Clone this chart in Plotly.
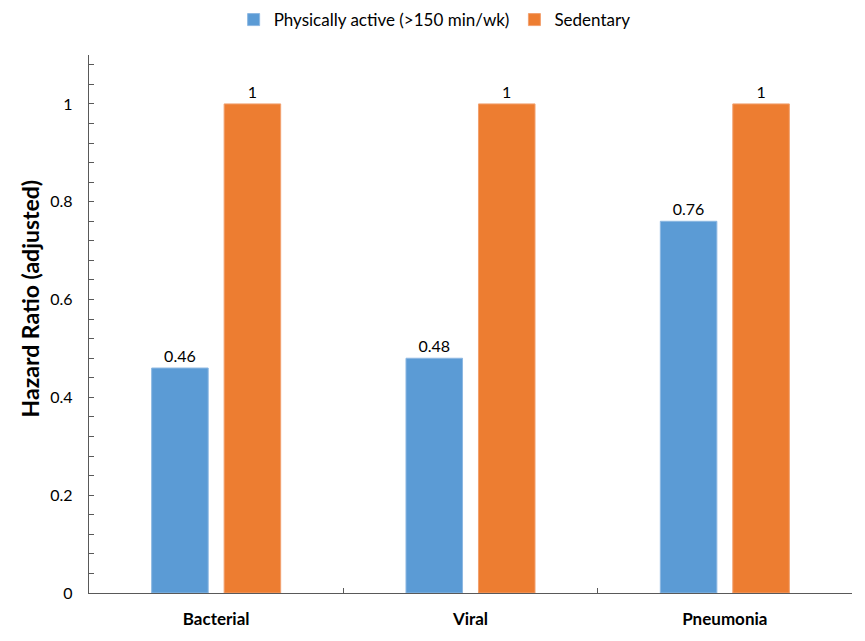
import plotly.graph_objects as go

categories = ["Bacterial", "Viral", "Pneumonia"]
active = [0.46, 0.48, 0.76]
sedentary = [1, 1, 1]
series_names = ["Physically active (>150 min/wk)", "Sedentary"]
y_title = "Hazard Ratio (adjusted)"

FONT = "Lato"
BLUE = "#5B9BD5"
ORANGE = "#ED7D31"

fig = go.Figure()
fig.add_trace(go.Bar(
    x=categories, y=active, name=series_names[0],
    marker=dict(color=BLUE, line=dict(color="#8DB8E2", width=1)),
    text=[f"{v:g}" for v in active], textposition="outside",
    textfont=dict(size=16, color="#000000"), cliponaxis=False,
))
fig.add_trace(go.Bar(
    x=categories, y=sedentary, name=series_names[1],
    marker=dict(color=ORANGE, line=dict(color="#F2A06E", width=1)),
    text=[f"{v:g}" for v in sedentary], textposition="outside",
    textfont=dict(size=16, color="#000000"), cliponaxis=False,
))

fig.update_layout(
    width=865, height=641,
    paper_bgcolor="white", plot_bgcolor="white",
    font=dict(family=FONT, size=16, color="#000000"),
    margin=dict(l=89, r=13, t=55, b=48, autoexpand=False),
    barmode="group", bargap=0.43, bargroupgap=0.22,
    showlegend=True,
    legend=dict(orientation="h", x=0.453, xanchor="center", y=1.065, yanchor="middle",
                font=dict(size=17), traceorder="normal"),
)

# y-axis title placed as a rotated annotation (sits a bit above the axis centre)
fig.add_annotation(
    text=y_title, textangle=-90, showarrow=False,
    xref="paper", yref="paper", x=-0.077, y=0.548,
    xanchor="center", yanchor="middle",
    font=dict(size=23, weight="bold"),
)

fig.update_xaxes(
    automargin=False,
    showline=True, linecolor="#595959", linewidth=1.3,
    ticks="inside", tickson="boundaries", ticklen=5, tickcolor="#595959",
    tickfont=dict(size=17, family=FONT, weight="bold"), ticklabelstandoff=10,
    showgrid=False, zeroline=False,
)
fig.update_yaxes(
    automargin=False,
    range=[0, 1.1], dtick=0.2, tick0=0,
    showline=True, linecolor="#595959", linewidth=1.3,
    ticks="inside", ticklen=5, tickcolor="#595959",
    minor=dict(dtick=0.04, ticks="inside", ticklen=5, tickcolor="#595959"),
    tickfont=dict(size=16), ticklabelstandoff=12,
    showgrid=False, zeroline=False,
)

fig.write_html("out.html", config={"displayModeBar": False},
               post_script="document.body.style.margin='0';")
